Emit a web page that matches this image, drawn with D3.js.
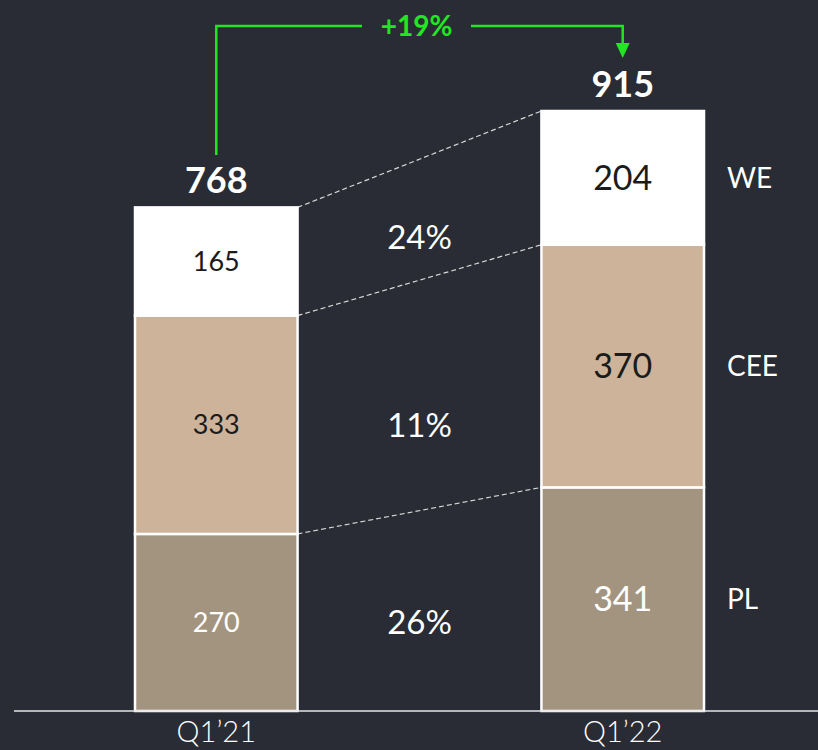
<!DOCTYPE html>
<html>
<head>
<meta charset="utf-8">
<script src="https://cdn.jsdelivr.net/npm/d3@7"></script>
<style>
  body { margin: 0; background: #292c34; }
  text { font-family: Lato, "Open Sans", sans-serif; }
</style>
</head>
<body>
<div class="canvas"></div>
<script>
// data
const periods = ['Q1\u201921', 'Q1\u201922'];
const regions = ['PL', 'CEE', 'WE'];
const plValues = [270, 341];
const ceeValues = [333, 370];
const weValues = [165, 204];
const totals = [768, 915];
const growthLabels = ['26%', '11%', '24%'];
const totalGrowth = '+19%';

const colors = {PL: '#a39480', CEE: '#cdb39a', WE: '#ffffff'};
const labelColors = {PL: '#ffffff', CEE: '#1b1b1b', WE: '#1b1b1b'};

const svg = d3.select('.canvas')
  .append('svg')
    .attr('width', 818)
    .attr('height', 750);

const baseY = 711;

// scales
const x = d3.scaleBand()
  .domain(periods)
  .range([135, 704])
  .paddingInner(0.6)
  .paddingOuter(0);

const y = d3.scaleLinear()
  .domain([0, 915])
  .range([baseY, 111]);

// stacking
const rows = periods.map((p, i) => ({period: p, PL: plValues[i], CEE: ceeValues[i], WE: weValues[i]}));
const stack = d3.stack().keys(regions)(rows);

// dashed connectors between bars
const xl = x(periods[0]) + x.bandwidth();
const xr = x(periods[1]);
stack.forEach(layer => {
  svg.append('line')
    .attr('x1', xl).attr('y1', y(layer[0][1]))
    .attr('x2', xr).attr('y2', y(layer[1][1]))
    .attr('stroke', '#d8d8d8')
    .attr('stroke-width', 1.2)
    .attr('stroke-dasharray', '5,3');
});

// bars
const groups = svg.selectAll('g.layer')
  .data(stack)
  .enter()
  .append('g')
    .attr('class', 'layer');

groups.selectAll('rect')
  .data(d => d.map(v => ({key: d.key, v})))
  .enter()
  .append('rect')
    .attr('x', d => x(d.v.data.period))
    .attr('y', d => y(d.v[1]))
    .attr('width', x.bandwidth())
    .attr('height', d => y(d.v[0]) - y(d.v[1]))
    .attr('fill', d => colors[d.key])
    .attr('stroke', '#ffffff')
    .attr('stroke-width', 2.5);

groups.selectAll('text')
  .data(d => d.map((v, i) => ({key: d.key, v, i})))
  .enter()
  .append('text')
    .attr('x', d => x(d.v.data.period) + x.bandwidth() / 2)
    .attr('y', d => (y(d.v[0]) + y(d.v[1])) / 2)
    .attr('dy', '0.36em')
    .attr('text-anchor', 'middle')
    .attr('font-size', d => d.i === 0 ? 27 : 34)
    .attr('fill', d => labelColors[d.key])
    .text(d => d.v[1] - d.v[0]);

// baseline
svg.append('line')
  .attr('x1', 14).attr('x2', 818)
  .attr('y1', baseY).attr('y2', baseY)
  .attr('stroke', '#e6e6e6')
  .attr('stroke-width', 1.5);

// x axis labels
const xAxisGroup = svg.append('g')
  .attr('transform', `translate(0, ${baseY})`);
const xAxis = d3.axisBottom(x).tickSize(0).tickPadding(10);
xAxisGroup.call(xAxis);
xAxisGroup.select('.domain').remove();
xAxisGroup.selectAll('text')
  .attr('font-size', 29)
  .attr('font-weight', 300)
  .attr('fill', '#ffffff')
  .attr('font-family', 'Lato, sans-serif');

// totals
svg.selectAll('text.total')
  .data(totals)
  .enter()
  .append('text')
    .attr('class', 'total')
    .attr('x', (d, i) => x(periods[i]) + x.bandwidth() / 2)
    .attr('y', d => y(d) - 14)
    .attr('text-anchor', 'middle')
    .attr('font-size', 36)
    .attr('font-weight', 'bold')
    .attr('fill', '#ffffff')
    .text(d => d);

// growth labels between bars, level with the first bar's segments
const midX = (xl + xr) / 2;
stack.forEach((layer, i) => {
  let yMid = (y(layer[0][0]) + y(layer[0][1])) / 2;
  if (i === stack.length - 1) yMid -= 24; // top one sits a bit higher
  svg.append('text')
    .attr('x', midX)
    .attr('y', yMid)
    .attr('dy', '0.36em')
    .attr('text-anchor', 'middle')
    .attr('font-size', 33)
    .attr('fill', '#ffffff')
    .text(growthLabels[i]);
});

// legend labels right of second bar
stack.forEach(layer => {
  svg.append('text')
    .attr('x', xr + x.bandwidth() + 23)
    .attr('y', (y(layer[1][0]) + y(layer[1][1])) / 2)
    .attr('dy', '0.36em')
    .attr('font-size', 28)
    .attr('fill', '#ffffff')
    .text(layer.key);
});

// green growth arrow
const green = '#22e622';
const cx0 = x(periods[0]) + x.bandwidth() / 2;
const cx1 = x(periods[1]) + x.bandwidth() / 2;
const arrowY = 26;
const gapL = 362, gapR = 471;
svg.append('path')
  .attr('d', `M${cx0},155 V${arrowY} H${gapL}`)
  .attr('fill', 'none')
  .attr('stroke', green)
  .attr('stroke-width', 2.5);
svg.append('path')
  .attr('d', `M${gapR},${arrowY} H${cx1} V46`)
  .attr('fill', 'none')
  .attr('stroke', green)
  .attr('stroke-width', 2.5);
svg.append('path')
  .attr('d', `M${cx1 - 7},43 L${cx1 + 7},43 L${cx1},58 Z`)
  .attr('fill', green);
svg.append('text')
  .attr('x', (gapL + gapR) / 2)
  .attr('y', arrowY)
  .attr('dy', '0.36em')
  .attr('text-anchor', 'middle')
  .attr('font-size', 28)
  .attr('font-weight', 'bold')
  .attr('fill', green)
  .text(totalGrowth);
</script>
</body>
</html>
